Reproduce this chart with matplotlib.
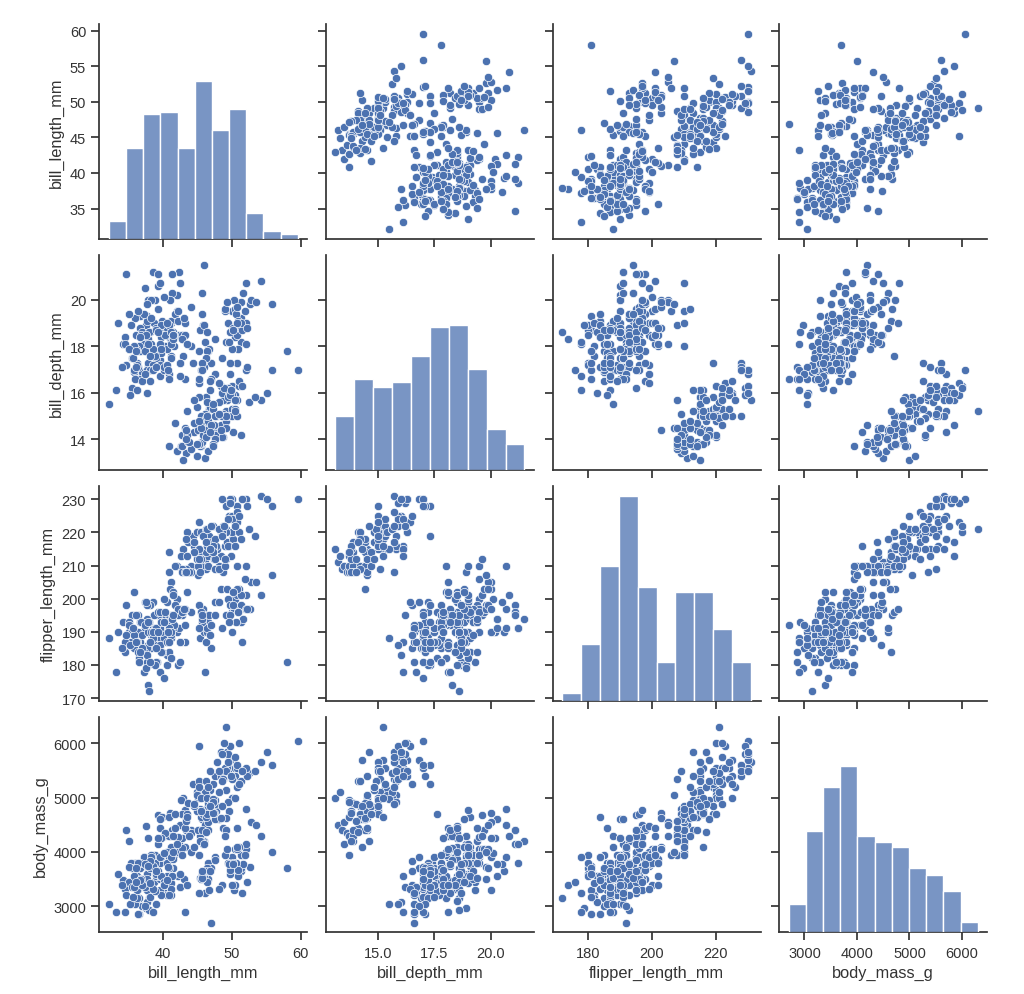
import matplotlib

matplotlib.use("Agg")
import matplotlib.pyplot as plt
import pandas as pd
import seaborn as sns

VARS = ["bill_length_mm", "bill_depth_mm", "flipper_length_mm", "body_mass_g"]

# rows read as (bill_length, bill_depth, flipper_length, body_mass)
adelie_bill_length = [
    39.1, 39.5, 40.3, 36.7, 39.3, 38.9, 39.2, 34.1, 42.0, 37.8, 37.8, 41.1, 38.6, 34.6, 36.6, 38.7, 42.5, 34.4, 46.0,
    37.8, 37.7, 35.9, 38.2, 38.8, 35.3, 40.6, 40.5, 37.9, 40.5, 39.5, 37.2, 39.5, 40.9, 36.4, 39.2, 38.8, 42.2, 37.6,
    39.8, 36.5, 40.8, 36.0, 44.1, 37.0, 39.6, 41.1, 37.5, 36.0, 42.3, 39.6, 40.1, 35.0, 42.0, 34.5, 41.4, 39.0, 40.6,
    36.5, 37.6, 35.7, 41.3, 37.6, 41.1, 36.4, 41.6, 35.5, 41.1, 35.9, 41.8, 33.5, 39.7, 39.6, 45.8, 35.5, 42.8, 40.9,
    37.2, 36.2, 42.1, 34.6, 42.9, 36.7, 35.1, 37.3, 41.3, 36.3, 36.9, 38.3, 38.9, 35.7, 41.1, 34.0, 39.6, 36.2, 40.8,
    38.1, 40.3, 33.1, 43.2, 35.0, 41.0, 37.7, 37.8, 37.9, 39.7, 38.6, 38.2, 38.1, 43.2, 38.1, 45.6, 39.7, 42.2, 39.6,
    42.7, 38.6, 37.3, 35.7, 41.1, 36.2, 37.7, 40.2, 41.4, 35.2, 40.6, 38.8, 41.5, 39.0, 44.1, 38.5, 43.1, 36.8, 37.5,
    38.1, 41.1, 35.6, 40.2, 37.0, 39.7, 40.2, 40.6, 32.1, 40.7, 37.3, 39.0, 39.2, 36.6, 36.0, 37.8, 36.0, 41.5,
]
adelie_bill_depth = [
    18.7, 17.4, 18.0, 19.3, 20.6, 17.8, 19.6, 18.1, 20.2, 17.1, 17.3, 17.6, 21.2, 21.1, 17.8, 19.0, 20.7, 18.4, 21.5,
    18.3, 18.7, 19.2, 18.1, 17.2, 18.9, 18.6, 17.9, 18.6, 18.9, 16.7, 18.1, 17.8, 18.9, 17.0, 21.1, 20.0, 18.5, 19.3,
    19.1, 18.0, 18.4, 18.5, 19.7, 16.9, 18.8, 19.0, 18.9, 17.9, 21.2, 17.7, 18.9, 17.9, 19.5, 18.1, 18.6, 17.5, 18.8,
    16.6, 19.1, 16.9, 21.1, 17.0, 18.2, 17.1, 18.0, 16.2, 19.1, 16.6, 19.4, 19.0, 18.4, 17.2, 18.9, 17.5, 18.5, 16.8,
    19.4, 16.1, 19.1, 17.2, 17.6, 18.8, 19.4, 17.8, 20.3, 19.5, 18.6, 19.2, 18.8, 18.0, 18.1, 17.1, 18.1, 17.3, 18.9,
    18.6, 18.5, 16.1, 18.5, 17.9, 20.0, 16.0, 20.0, 18.6, 18.9, 17.2, 20.0, 17.0, 19.0, 16.5, 20.3, 17.7, 19.5, 20.7,
    18.3, 17.0, 20.5, 17.0, 18.6, 17.2, 19.8, 17.0, 18.5, 15.9, 19.0, 17.6, 18.3, 17.1, 18.0, 17.9, 19.2, 18.5, 18.5,
    17.6, 17.5, 17.5, 20.1, 16.5, 17.9, 17.1, 17.2, 15.5, 17.0, 16.8, 18.7, 18.6, 18.4, 17.8, 18.1, 17.1, 18.5,
]
adelie_flipper_length = [
    181, 186, 195, 193, 190, 181, 195, 193, 190, 186, 180, 182, 191, 198, 185, 195, 197, 184, 194,
    174, 180, 189, 185, 180, 187, 183, 187, 172, 180, 178, 178, 188, 184, 195, 196, 190, 180, 181,
    184, 182, 195, 186, 196, 185, 190, 182, 179, 190, 191, 186, 188, 190, 200, 187, 191, 186, 193,
    181, 194, 185, 195, 185, 192, 184, 192, 195, 188, 190, 198, 190, 190, 196, 197, 190, 195, 191,
    184, 187, 195, 189, 196, 187, 193, 191, 194, 190, 189, 189, 190, 202, 205, 185, 186, 187, 208,
    190, 196, 178, 192, 192, 203, 183, 190, 193, 184, 199, 190, 181, 197, 198, 191, 193, 197, 191,
    196, 188, 199, 189, 189, 187, 198, 176, 202, 186, 199, 191, 195, 191, 210, 190, 197, 193, 199,
    187, 190, 191, 200, 185, 193, 193, 187, 188, 190, 192, 185, 190, 184, 195, 193, 187, 201,
]
adelie_body_mass = [
    3750, 3800, 3250, 3450, 3650, 3625, 4675, 3475, 4250, 3300, 3700, 3200, 3800, 4400, 3700, 3450, 4500, 3325, 4200,
    3400, 3600, 3800, 3950, 3800, 3800, 3550, 3200, 3150, 3950, 3250, 3900, 3300, 3900, 3325, 4150, 3950, 3550, 3300,
    4650, 3150, 3900, 3100, 4400, 3000, 4600, 3425, 2975, 3450, 4150, 3500, 4300, 3450, 4050, 2900, 3700, 3550, 3800,
    2850, 3750, 3150, 4400, 3600, 4050, 2850, 3950, 3350, 4100, 3050, 4450, 3600, 3900, 3550, 4150, 3700, 4250, 3700,
    3900, 3550, 4000, 3200, 4700, 3800, 4200, 3350, 3550, 3800, 3500, 3950, 3600, 3550, 4300, 3400, 4450, 3300, 4300,
    3700, 4350, 2900, 4100, 3725, 4725, 3075, 4250, 2925, 3550, 3750, 3900, 3175, 4775, 3825, 4600, 3200, 4275, 3900,
    4075, 2900, 3775, 3350, 3325, 3150, 3500, 3450, 3875, 3050, 4000, 3275, 4300, 3050, 4000, 3325, 3500, 3500, 4475,
    3425, 3900, 3175, 3975, 3400, 4250, 3400, 3475, 3050, 3725, 3000, 3650, 4250, 3475, 3450, 3750, 3700, 4000,
]

gentoo_bill_length = [
    46.1, 50.0, 48.7, 50.0, 47.6, 46.5, 45.4, 46.7, 43.3, 46.8, 40.9, 49.0, 45.5, 48.4, 45.8, 49.3, 42.0, 49.2,
    46.2, 48.7, 50.2, 45.1, 46.5, 46.3, 42.9, 46.1, 44.5, 47.8, 48.2, 50.0, 47.3, 42.8, 45.1, 59.6, 49.1, 48.4,
    42.6, 44.4, 44.0, 48.7, 42.7, 49.6, 45.3, 49.6, 50.5, 43.6, 45.5, 50.5, 44.9, 45.2, 46.6, 48.5, 45.1, 50.1,
    46.5, 45.0, 43.8, 45.5, 43.2, 50.4, 45.3, 46.2, 45.7, 54.3, 45.8, 49.8, 46.2, 49.5, 43.5, 50.7, 47.7, 46.4,
    48.2, 46.5, 46.4, 48.6, 47.5, 51.1, 45.2, 45.2, 49.1, 52.5, 47.4, 50.0, 44.9, 50.8, 43.4, 51.3, 47.5, 52.1,
    47.5, 52.2, 45.5, 49.5, 44.5, 50.8, 49.4, 46.9, 48.4, 51.1, 48.5, 55.9, 47.2, 49.1, 47.3, 46.8, 41.7, 53.4,
    43.3, 48.1, 50.5, 49.8, 43.5, 51.5, 46.2, 55.1, 44.5, 48.8, 47.2, 46.8, 50.4, 45.2, 49.9,
]
gentoo_bill_depth = [
    13.2, 16.3, 14.1, 15.2, 14.5, 13.5, 14.6, 15.3, 13.4, 15.4, 13.7, 16.1, 13.7, 14.6, 14.6, 15.7, 13.5, 15.2,
    14.5, 15.1, 14.3, 14.5, 14.5, 15.8, 13.1, 15.1, 14.3, 15.0, 14.3, 15.3, 15.3, 14.2, 14.5, 17.0, 14.8, 16.3,
    13.7, 17.3, 13.6, 15.7, 13.7, 16.0, 13.7, 15.0, 15.9, 13.9, 13.9, 15.9, 13.3, 15.8, 14.2, 14.1, 14.4, 15.0,
    14.4, 15.4, 13.9, 15.0, 14.5, 15.3, 13.8, 14.9, 13.9, 15.7, 14.2, 16.8, 14.4, 16.2, 14.2, 15.0, 15.0, 15.6,
    15.6, 14.8, 15.0, 16.0, 14.2, 16.3, 13.8, 16.4, 14.5, 15.6, 14.6, 15.9, 13.8, 17.3, 14.4, 14.2, 14.0, 17.0,
    15.0, 17.1, 14.5, 16.1, 14.7, 15.7, 15.8, 14.6, 14.4, 16.5, 15.0, 17.0, 15.5, 15.0, 13.8, 16.1, 14.7, 15.8,
    14.0, 15.1, 15.2, 15.9, 15.2, 16.3, 14.1, 16.0, 15.7, 16.2, 13.7, 14.3, 15.7, 14.8, 16.1,
]
gentoo_flipper_length = [
    211, 230, 210, 218, 215, 210, 211, 219, 209, 215, 214, 216, 214, 213, 210, 217, 210, 221,
    209, 222, 218, 215, 213, 215, 215, 215, 216, 215, 210, 220, 222, 209, 207, 230, 220, 220,
    213, 219, 208, 208, 208, 225, 210, 216, 222, 217, 210, 225, 213, 215, 210, 220, 210, 225,
    217, 220, 208, 220, 208, 224, 208, 221, 214, 231, 219, 230, 214, 229, 220, 223, 216, 221,
    221, 217, 216, 230, 209, 220, 215, 223, 212, 221, 212, 224, 212, 228, 218, 218, 212, 230,
    218, 228, 212, 224, 214, 226, 216, 222, 203, 225, 219, 228, 215, 228, 216, 215, 210, 219,
    208, 209, 216, 229, 213, 230, 217, 230, 217, 222, 214, 215, 222, 212, 213,
]
gentoo_body_mass = [
    4500, 5700, 4450, 5700, 5400, 4550, 4800, 5200, 4400, 5150, 4650, 5550, 4650, 5850, 4200, 5850, 4150, 6300,
    4800, 5350, 5700, 5000, 4400, 5050, 5000, 5100, 4100, 5650, 4600, 5550, 5250, 4700, 5050, 6050, 5150, 5400,
    4950, 5250, 4350, 5350, 3950, 5700, 4300, 4750, 5550, 4900, 4200, 5400, 5100, 5300, 4850, 5300, 4400, 5000,
    4900, 5050, 4300, 5000, 4450, 5550, 4200, 5300, 4400, 5650, 4700, 5700, 4650, 5800, 4700, 5550, 4750, 5000,
    5100, 5200, 4700, 5800, 4600, 6000, 4750, 5950, 4625, 5450, 4725, 5350, 4750, 5600, 4600, 5300, 4875, 5550,
    4950, 5400, 4750, 5650, 4850, 5200, 4925, 4875, 4625, 5250, 4850, 5600, 4975, 5500, 4725, 5500, 4700, 5500,
    4575, 5500, 5000, 5950, 4650, 5500, 4375, 5850, 4875, 6000, 4925, 4850, 5750, 5200, 5400,
]

chinstrap_bill_length = [
    46.5, 50.0, 51.3, 45.4, 52.7, 45.2, 46.1, 51.3, 46.0, 51.3, 46.6, 51.7, 47.0, 52.0, 45.9, 50.5, 50.3,
    58.0, 46.4, 49.2, 42.4, 48.5, 43.2, 50.6, 46.7, 52.0, 50.5, 49.5, 46.4, 52.8, 40.9, 54.2, 42.5, 51.0,
    49.7, 47.5, 47.6, 52.0, 46.9, 53.5, 49.0, 46.2, 50.9, 45.5, 50.9, 50.8, 50.1, 49.0, 51.5, 49.8, 48.1,
    51.4, 45.7, 50.7, 42.5, 52.2, 45.2, 49.3, 50.2, 45.6, 51.9, 46.8, 45.7, 55.8, 43.5, 49.6, 50.8, 50.2,
]
chinstrap_bill_depth = [
    17.9, 19.5, 19.2, 18.7, 19.8, 17.8, 18.2, 18.2, 18.9, 19.9, 17.8, 20.3, 17.3, 18.1, 17.1, 19.6, 20.0,
    17.8, 18.6, 18.2, 17.3, 17.5, 16.6, 19.4, 17.9, 19.0, 18.4, 19.0, 17.8, 20.0, 16.6, 20.8, 16.7, 18.8,
    18.6, 16.8, 18.3, 20.7, 16.6, 19.9, 19.5, 17.5, 19.1, 17.0, 17.9, 18.5, 17.9, 19.6, 18.7, 17.3, 16.4,
    19.0, 17.3, 19.7, 17.3, 18.8, 16.6, 19.9, 18.8, 19.4, 19.5, 16.5, 17.0, 19.8, 18.1, 18.2, 19.0, 18.7,
]
chinstrap_flipper_length = [
    192, 196, 193, 188, 197, 198, 178, 197, 195, 198, 193, 194, 185, 201, 190, 201, 197,
    181, 190, 195, 181, 191, 187, 193, 195, 197, 200, 200, 191, 205, 187, 201, 187, 203,
    195, 199, 195, 210, 192, 205, 210, 187, 196, 196, 196, 201, 190, 212, 187, 198, 199,
    201, 193, 203, 187, 197, 191, 203, 202, 194, 206, 189, 195, 207, 202, 193, 210, 198,
]
chinstrap_body_mass = [
    3500, 3900, 3650, 3525, 3725, 3950, 3250, 3750, 4150, 3700, 3800, 3775, 3700, 4050, 3575, 4050, 3300,
    3700, 3450, 4400, 3600, 3400, 2900, 3800, 3300, 4150, 3400, 3800, 3700, 4550, 3200, 4300, 3350, 4100,
    3600, 3900, 3850, 4800, 2700, 4500, 3950, 3650, 3550, 3500, 3675, 4450, 3400, 4300, 3250, 3675, 3325,
    3950, 3600, 4050, 3350, 3450, 3250, 4050, 3800, 3525, 3950, 3650, 3650, 4000, 3400, 3775, 4100, 3775,
]


def build_frame():
    return pd.DataFrame({
        "bill_length_mm": adelie_bill_length + gentoo_bill_length + chinstrap_bill_length,
        "bill_depth_mm": adelie_bill_depth + gentoo_bill_depth + chinstrap_bill_depth,
        "flipper_length_mm": adelie_flipper_length + gentoo_flipper_length + chinstrap_flipper_length,
        "body_mass_g": adelie_body_mass + gentoo_body_mass + chinstrap_body_mass,
    })


def main():
    sns.set_theme(style="ticks")
    plt.rcParams["font.family"] = ["Liberation Sans", "DejaVu Sans"]
    plt.rcParams["axes.labelsize"] = 11.8
    plt.rcParams["xtick.labelsize"] = 10.5
    plt.rcParams["ytick.labelsize"] = 10.5
    plt.rcParams["text.color"] = "0.2"
    plt.rcParams["axes.labelcolor"] = "0.2"
    plt.rcParams["xtick.color"] = "0.2"
    plt.rcParams["ytick.color"] = "0.2"
    plt.rcParams["axes.edgecolor"] = "0.2"

    df = build_frame()
    g = sns.pairplot(df, vars=VARS, height=2.5)
    g.figure.set_size_inches(10.24, 9.95)
    g.figure.subplots_adjust(left=0.097, right=0.964, bottom=0.062, top=0.975, hspace=0.075, wspace=0.09)
    g.figure.savefig("out.png", dpi=100)
    plt.close(g.figure)


if __name__ == "__main__":
    main()
